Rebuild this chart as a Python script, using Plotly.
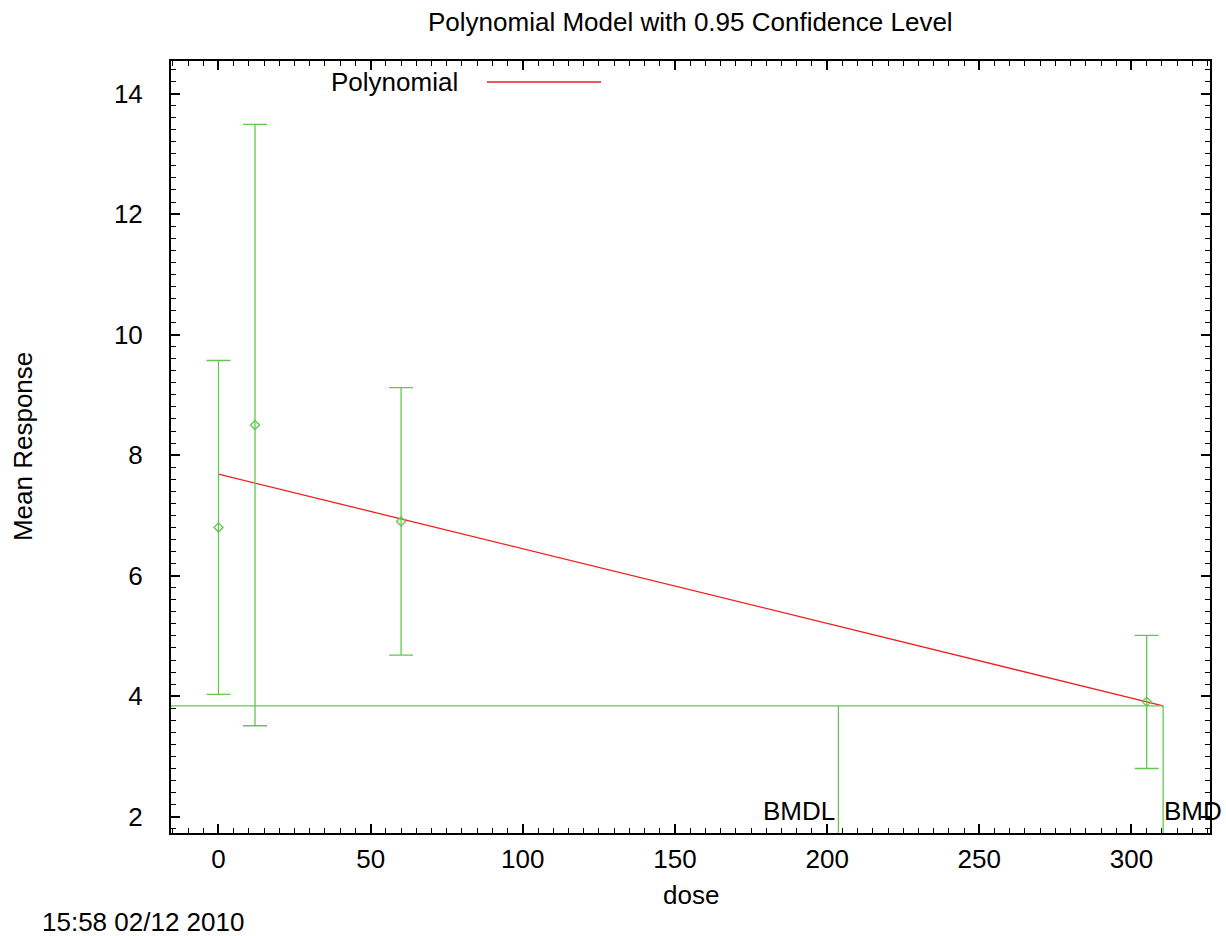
import plotly.graph_objects as go

# ---- data ----
dose = [0, 12, 60, 305]
mean_response = [6.80, 8.50, 6.90, 3.91]
ci_lower = [4.03, 3.51, 4.68, 2.80]
ci_upper = [9.57, 13.49, 9.12, 5.01]

fit_dose = [0, 310.4]
fit_mean = [7.685, 3.84]

bmr_level = 3.84
bmdl = 203.7
bmd = 310.4

x_range = [-15.6, 325.8]
y_range = [1.73, 14.54]

x_ticks = [0, 50, 100, 150, 200, 250, 300]
y_ticks = [2, 4, 6, 8, 10, 12, 14]

title_text = "Polynomial Model with 0.95 Confidence Level"
x_title = "dose"
y_title = "Mean Response"
legend_label = "Polynomial"
timestamp = "15:58 02/12 2010"

GREEN = "rgb(100,200,80)"
RED = "rgb(240,30,30)"
FONT = "Liberation Sans, Arial, sans-serif"
FS = 26

fig = go.Figure()

# fitted model line
fig.add_trace(go.Scatter(x=fit_dose, y=fit_mean, mode="lines",
                         line=dict(color=RED, width=1.3),
                         showlegend=False, hoverinfo="skip"))

# BMR horizontal line and BMDL / BMD vertical lines
fig.add_trace(go.Scatter(x=[x_range[0], bmd], y=[bmr_level, bmr_level], mode="lines",
                         line=dict(color=GREEN, width=1.3), showlegend=False))
fig.add_trace(go.Scatter(x=[bmdl, bmdl], y=[bmr_level, y_range[0]], mode="lines",
                         line=dict(color=GREEN, width=1.3), showlegend=False))
fig.add_trace(go.Scatter(x=[bmd, bmd], y=[bmr_level, y_range[0]], mode="lines",
                         line=dict(color=GREEN, width=1.3), showlegend=False))

# data with confidence intervals
err_plus = [u - m for u, m in zip(ci_upper, mean_response)]
err_minus = [m - l for m, l in zip(mean_response, ci_lower)]
fig.add_trace(go.Scatter(
    x=dose, y=mean_response, mode="markers",
    marker=dict(symbol="diamond-open", size=7, color=GREEN, line=dict(width=1.3, color=GREEN)),
    error_y=dict(type="data", symmetric=False, array=err_plus, arrayminus=err_minus,
                 color=GREEN, thickness=1.3, width=12),
    showlegend=False))

axis_common = dict(
    showgrid=False, zeroline=False, showline=True, linecolor="black", linewidth=2,
    mirror="allticks", ticks="inside", tickcolor="black", tickwidth=1.5, ticklen=9,
    tickfont=dict(family=FONT, size=FS, color="black"),
)

fig.update_xaxes(range=x_range, tickvals=x_ticks, ticklabelstandoff=2,
                 minor=dict(ticks="inside", dtick=5, ticklen=5, tickwidth=1.2, tickcolor="black"),
                 **axis_common)
fig.update_yaxes(range=y_range, tickvals=y_ticks, ticklabelstandoff=21,
                 minor=dict(ticks="inside", dtick=0.2, ticklen=5, tickwidth=1.2, tickcolor="black"),
                 **axis_common)

ann_font = dict(family=FONT, size=FS, color="black")
annotations = [
    dict(text=title_text, xref="paper", yref="paper", x=0.5, y=1.050,
         xanchor="center", yanchor="middle", showarrow=False, font=ann_font),
    dict(text=x_title, xref="paper", yref="paper", x=0.5, y=-0.0807,
         xanchor="center", yanchor="middle", showarrow=False, font=ann_font),
    dict(text=y_title, xref="paper", yref="paper", x=-0.1424, y=0.5, textangle=-90,
         xanchor="center", yanchor="middle", showarrow=False, font=ann_font),
    dict(text=timestamp, xref="paper", yref="paper", x=-0.1261, y=-0.1157,
         xanchor="left", yanchor="middle", showarrow=False, font=ann_font),
    dict(text=legend_label, xref="paper", yref="paper", x=0.2782, y=0.9724,
         xanchor="right", yanchor="middle", showarrow=False, font=ann_font),
    dict(text="BMDL", x=bmdl, y=y_range[0], xref="x", yref="y",
         xanchor="right", yanchor="bottom", yshift=5, xshift=-1, showarrow=False, font=ann_font),
    dict(text="BMD", x=bmd, y=y_range[0], xref="x", yref="y",
         xanchor="left", yanchor="bottom", yshift=5, xshift=-1, showarrow=False, font=ann_font),
]

fig.update_layout(
    width=1226, height=936,
    margin=dict(l=171, r=16, t=61, b=103),
    paper_bgcolor="white", plot_bgcolor="white",
    showlegend=False,
    annotations=annotations,
    shapes=[dict(type="line", xref="paper", yref="paper", x0=0.3041, x1=0.4139,
                 y0=0.9728, y1=0.9728, line=dict(color=RED, width=1.5))],
)

fig.write_html(
    "out.html",
    config={"displayModeBar": False},
    post_script="document.body.style.margin='0';document.documentElement.style.overflow='hidden';",
)
